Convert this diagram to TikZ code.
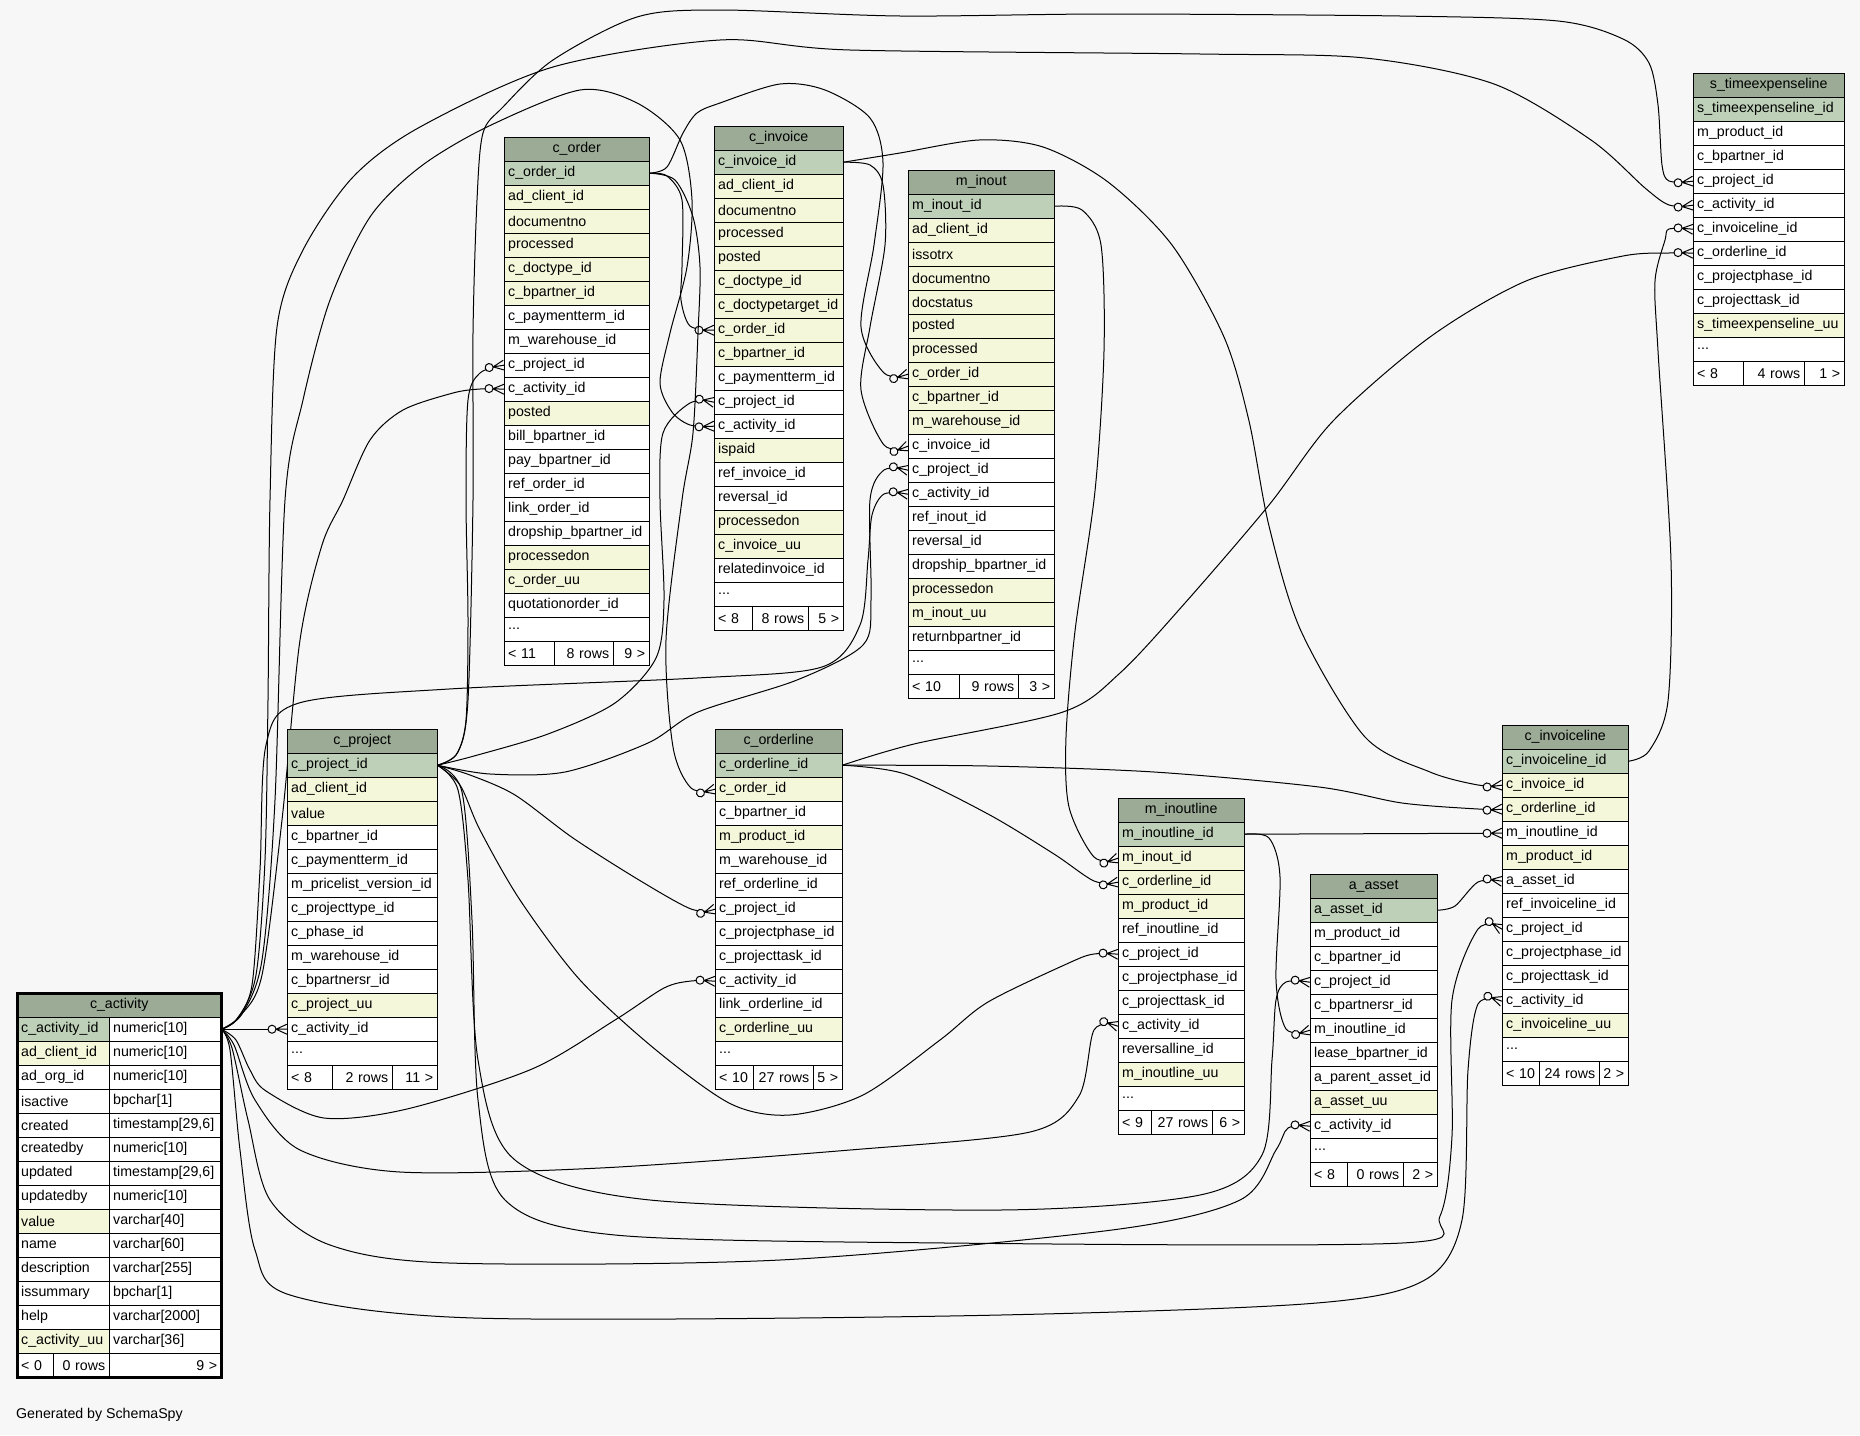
\documentclass[tikz,border=0pt]{standalone}
\usepackage{fontspec}
\setmainfont{Liberation Sans}
\usetikzlibrary{backgrounds}

\definecolor{bgcol}{HTML}{F7F7F7}
\definecolor{headcol}{HTML}{9BAB96}
\definecolor{pk}{HTML}{BED1B8}
\definecolor{ix}{HTML}{F4F7DA}
\colorlet{wh}{white}

% zero-or-many end: circle + crow's foot
\pgfdeclarearrow{
  name = crowodot,
  setup code = {
    \pgfarrowssettipend{0pt}
    \pgfarrowssetlineend{-18pt}
    \pgfarrowssetbackend{-19pt}
    \pgfarrowsupperhullpoint{0pt}{5pt}
    \pgfarrowsupperhullpoint{-19pt}{4pt}
  },
  drawing code = {
    \pgfpathmoveto{\pgfpoint{-11pt}{0pt}}
    \pgfpathlineto{\pgfpoint{0pt}{5pt}}
    \pgfpathmoveto{\pgfpoint{-11pt}{0pt}}
    \pgfpathlineto{\pgfpoint{0pt}{0pt}}
    \pgfpathmoveto{\pgfpoint{-11pt}{0pt}}
    \pgfpathlineto{\pgfpoint{0pt}{-5pt}}
    \pgfusepathqstroke
    \pgfsetfillcolor{bgcol}
    \pgfpathcircle{\pgfpoint{-15pt}{0pt}}{4pt}
    \pgfusepathqfillstroke
  }
}

\tikzset{
  tabhead/.style={draw, fill=headcol, minimum height=24pt, inner sep=0pt, anchor=north west},
  tabrow/.style={draw, fill=#1, minimum height=24pt, inner xsep=4pt, inner ysep=0pt,
    anchor=north west, align=left},
  fklink/.style={line width=1pt, -crowodot}
}

\newcommand\rowdots{...}
% table: name, left, top, width, title, rows (text/colour)
\newcommand\dbtable[6]{%
  \node[tabhead, minimum width=#4] (#1-0) at (#2,#3) {#5};
  \pgfmathsetmacro\tabtw{#4-8}%
  \foreach \txt/\kind [count=\i] in {#6} {
    \pgfmathsetmacro\rowy{#3+24*\i}
    \node[tabrow=\kind, text width=\tabtw pt] (#1-\i) at (#2,\rowy) {\txt};
    \xdef\rowlast{\i}
  }
  \def\tabx{#2}\def\tabtop{#3}\def\tabw{#4}%
}
% footer: name, two separators, three texts
\newcommand\dbfoot[6]{%
  \pgfmathsetmacro\footy{\tabtop+24*(\rowlast+1)}%
  \pgfmathsetmacro\wa{#2-\tabx-8}%
  \pgfmathsetmacro\wb{#3-#2-8}%
  \pgfmathsetmacro\wc{\tabx+\tabw-#3-8}%
  \node[tabrow=wh, text width=\wa pt] (#1-fa) at (\tabx,\footy) {#4};
  \node[tabrow=wh, text width=\wb pt, align=right] (#1-fb) at (#2,\footy) {#5};
  \node[tabrow=wh, text width=\wc pt, align=right] (#1-fc) at (#3,\footy) {#6};
}

\begin{document}
\begin{tikzpicture}[x=1pt, y=-1pt, font=\fontsize{14.2}{17}\selectfont]
\useasboundingbox (0,0) rectangle (1860,1435);

% Tables
\node[tabhead, minimum width=204] (act-0) at (17,993) {c\_activity};
\foreach \txt/\kind/\type [count=\i] in {
  c\_activity\_id/pk/numeric[10], ad\_client\_id/ix/numeric[10], ad\_org\_id/wh/numeric[10],
  isactive/wh/bpchar[1], created/wh/{timestamp[29,6]}, createdby/wh/numeric[10],
  updated/wh/{timestamp[29,6]}, updatedby/wh/numeric[10], value/ix/varchar[40],
  name/wh/varchar[60], description/wh/varchar[255], issummary/wh/bpchar[1],
  help/wh/varchar[2000], c\_activity\_uu/ix/varchar[36]} {
  \pgfmathsetmacro\rowy{993+24*\i}
  \node[tabrow=\kind, text width=84pt] (act-\i) at (17,\rowy) {\txt};
  \node[tabrow=wh, text width=104pt] (act-t\i) at (109,\rowy) {\type};
}
\def\tabx{17}\def\tabtop{993}\def\tabw{204}\xdef\rowlast{14}
\dbfoot{act}{53}{109}{< 0}{0 rows}{9 >}
\draw[line width=3pt] (act-0.north west) rectangle (act-fc.south east);

\dbtable{ord}{504}{137}{145}{c\_order}{c\_order\_id/pk, ad\_client\_id/ix, documentno/ix,
  processed/ix, c\_doctype\_id/ix, c\_bpartner\_id/ix, c\_paymentterm\_id/wh, m\_warehouse\_id/wh,
  c\_project\_id/wh, c\_activity\_id/wh, posted/ix, bill\_bpartner\_id/wh, pay\_bpartner\_id/wh,
  ref\_order\_id/wh, link\_order\_id/wh, dropship\_bpartner\_id/wh, processedon/ix, c\_order\_uu/ix,
  quotationorder\_id/wh, \rowdots/wh}
\dbfoot{ord}{554}{613}{< 11}{8 rows}{9 >}

\dbtable{inv}{714}{126}{129}{c\_invoice}{c\_invoice\_id/pk, ad\_client\_id/ix, documentno/ix,
  processed/ix, posted/ix, c\_doctype\_id/ix, c\_doctypetarget\_id/ix, c\_order\_id/ix,
  c\_bpartner\_id/ix, c\_paymentterm\_id/wh, c\_project\_id/wh, c\_activity\_id/wh, ispaid/ix,
  ref\_invoice\_id/wh, reversal\_id/wh, processedon/ix, c\_invoice\_uu/ix, relatedinvoice\_id/wh, \rowdots/wh}
\dbfoot{inv}{752}{808}{< 8}{8 rows}{5 >}

\dbtable{ino}{908}{170}{146}{m\_inout}{m\_inout\_id/pk, ad\_client\_id/ix, issotrx/ix, documentno/ix,
  docstatus/ix, posted/ix, processed/ix, c\_order\_id/ix, c\_bpartner\_id/ix, m\_warehouse\_id/ix,
  c\_invoice\_id/wh, c\_project\_id/wh, c\_activity\_id/wh, ref\_inout\_id/wh, reversal\_id/wh,
  dropship\_bpartner\_id/wh, processedon/ix, m\_inout\_uu/ix, returnbpartner\_id/wh, \rowdots/wh}
\dbfoot{ino}{959}{1018}{< 10}{9 rows}{3 >}

\dbtable{tel}{1693}{73}{151}{s\_timeexpenseline}{s\_timeexpenseline\_id/pk, m\_product\_id/wh,
  c\_bpartner\_id/wh, c\_project\_id/wh, c\_activity\_id/wh, c\_invoiceline\_id/wh, c\_orderline\_id/wh,
  c\_projectphase\_id/wh, c\_projecttask\_id/wh, s\_timeexpenseline\_uu/ix, \rowdots/wh}
\dbfoot{tel}{1743}{1804}{< 8}{4 rows}{1 >}

\dbtable{prj}{287}{729}{150}{c\_project}{c\_project\_id/pk, ad\_client\_id/ix, value/ix,
  c\_bpartner\_id/wh, c\_paymentterm\_id/wh, m\_pricelist\_version\_id/wh, c\_projecttype\_id/wh,
  c\_phase\_id/wh, m\_warehouse\_id/wh, c\_bpartnersr\_id/wh, c\_project\_uu/ix, c\_activity\_id/wh, \rowdots/wh}
\dbfoot{prj}{332}{392}{< 8}{2 rows}{11 >}

\dbtable{orl}{715}{729}{127}{c\_orderline}{c\_orderline\_id/pk, c\_order\_id/ix, c\_bpartner\_id/wh,
  m\_product\_id/ix, m\_warehouse\_id/wh, ref\_orderline\_id/wh, c\_project\_id/wh, c\_projectphase\_id/wh,
  c\_projecttask\_id/wh, c\_activity\_id/wh, link\_orderline\_id/wh, c\_orderline\_uu/ix, \rowdots/wh}
\dbfoot{orl}{753}{813}{< 10}{27 rows}{5 >}

\dbtable{iol}{1118}{798}{126}{m\_inoutline}{m\_inoutline\_id/pk, m\_inout\_id/ix, c\_orderline\_id/ix,
  m\_product\_id/ix, ref\_inoutline\_id/wh, c\_project\_id/wh, c\_projectphase\_id/wh,
  c\_projecttask\_id/wh, c\_activity\_id/wh, reversalline\_id/wh, m\_inoutline\_uu/ix, \rowdots/wh}
\dbfoot{iol}{1151}{1212}{< 9}{27 rows}{6 >}

\dbtable{ast}{1310}{874}{127}{a\_asset}{a\_asset\_id/pk, m\_product\_id/wh, c\_bpartner\_id/wh,
  c\_project\_id/wh, c\_bpartnersr\_id/wh, m\_inoutline\_id/wh, lease\_bpartner\_id/wh,
  a\_parent\_asset\_id/wh, a\_asset\_uu/ix, c\_activity\_id/wh, \rowdots/wh}
\dbfoot{ast}{1347}{1403}{< 8}{0 rows}{2 >}

\dbtable{ivl}{1502}{725}{126}{c\_invoiceline}{c\_invoiceline\_id/pk, c\_invoice\_id/ix, c\_orderline\_id/ix,
  m\_inoutline\_id/wh, m\_product\_id/ix, a\_asset\_id/wh, ref\_invoiceline\_id/wh, c\_project\_id/wh,
  c\_projectphase\_id/wh, c\_projecttask\_id/wh, c\_activity\_id/wh, c\_invoiceline\_uu/ix, \rowdots/wh}
\dbfoot{ivl}{1539}{1599}{< 10}{24 rows}{2 >}

\node[anchor=west, inner sep=0pt] (credit) at (16,1415) {Generated by SchemaSpy};

% Connections
\begin{scope}[on background layer]
\fill[bgcol] (0,0) rectangle (1860,1435);
% from c_activity
\draw[fklink] (act-t1.east) -- (prj-12.west);
\draw[fklink] plot[smooth] coordinates {(act-t1.east) (238,1018) (256,975) (265,860) (268,700) (270,500) (277,327) (303,250) (353,177) (420,127) (553,67) (720,40) (850,50) (1200,54) (1365,58) (1494,84) (1591,140) (1645,188) (1669,205) (tel-5.west)};
\draw[fklink] plot[smooth] coordinates {(act-t1.east) (240,1016) (262,975) (282,820) (300,640) (322,545) (343,500) (370,440) (403,410) (453,393) (480,389) (ord-10.west)};
\draw[fklink] plot[smooth] coordinates {(act-t1.east) (242,1014) (262,960) (275,800) (285,500) (303,400) (330,300) (370,217) (420,167) (487,127) (580,90) (637,103) (680,140) (692,200) (687,267) (670,333) (660,383) (672,412) (690,425) (inv-12.west)};
\draw[fklink] plot[smooth] coordinates {(act-t1.east) (236,1020) (252,985) (260,870) (266,745) (299,703) (449,689) (697,678) (822,667) (860,625) (868,560) (872,515) (884,494) (ino-13.west)};
\draw[fklink] plot[smooth] coordinates {(act-t1.east) (236,1040) (250,1070) (266,1091) (324,1118) (407,1109) (532,1069) (615,1020) (664,988) (691,981) (orl-10.west)};
\draw[fklink] plot[smooth] coordinates {(act-t1.east) (234,1045) (255,1100) (300,1150) (400,1172) (600,1168) (850,1150) (1030,1132) (1079,1096) (1094,1030) (iol-9.west)};
\draw[fklink] plot[smooth] coordinates {(act-t1.east) (232,1048) (248,1120) (270,1200) (330,1245) (449,1263) (780,1260) (1112,1230) (1240,1200) (1276,1150) (1288,1128) (ast-10.west)};
\draw[fklink] plot[smooth] coordinates {(act-t1.east) (230,1050) (240,1150) (255,1250) (290,1295) (474,1318) (949,1316) (1304,1304) (1423,1281) (1462,1220) (1468,1070) (1478,1004) (ivl-11.west)};
% from c_project
\draw[fklink] plot[smooth] coordinates {(prj-1.east) (456,755) (466,720) (468,620) (466,500) (468,400) (480,373) (ord-9.west)};
\draw[fklink] plot[smooth] coordinates {(prj-1.east) (458,752) (468,700) (473,500) (473,333) (477,200) (483,133) (503,107) (553,60) (637,17) (720,10) (900,16) (1108,14) (1400,16) (1558,21) (1623,39) (1649,63) (1658,105) (1662,165) (1669,181) (tel-4.west)};
\draw[fklink] plot[smooth] coordinates {(prj-1.east) (474,756) (548,734) (615,703) (656,658) (664,600) (660,500) (663,433) (690,403) (inv-11.west)};
\draw[fklink] plot[smooth] coordinates {(prj-1.east) (490,774) (565,772) (648,743) (698,712) (797,680) (863,645) (871,600) (870,500) (884,470) (ino-12.west)};
\draw[fklink] plot[smooth] coordinates {(prj-1.east) (470,775) (515,795) (573,838) (639,880) (691,909) (orl-7.west)};
\draw[fklink] plot[smooth] coordinates {(prj-1.east) (460,785) (480,830) (520,900) (580,980) (656,1050) (731,1104) (790,1115) (863,1095) (940,1040) (988,1002) (1071,962) (1094,954) (iol-6.west)};
\draw[fklink] plot[smooth] coordinates {(prj-1.east) (458,790) (468,880) (478,1060) (515,1160) (650,1200) (1000,1210) (1200,1195) (1262,1155) (1272,1060) (1276,1000) (1286,982) (ast-4.west)};
\draw[fklink] plot[smooth] coordinates {(prj-1.east) (462,792) (472,920) (478,1100) (505,1200) (615,1235) (946,1243) (1402,1243) (1440,1216) (1452,1136) (1452,1000) (1478,929) (ivl-8.west)};
% from c_order
\draw[fklink] plot[smooth] coordinates {(ord-1.east) (667,176) (682,200) (682,267) (681,300) (690,326) (inv-8.west)};
\draw[fklink] plot[smooth] coordinates {(ord-1.east) (667,167) (683,133) (697,113) (720,103) (780,84) (825,90) (870,118) (883,163) (874,245) (861,327) (884,373) (ino-8.west)};
\draw[fklink] plot[smooth] coordinates {(ord-1.east) (675,180) (693,217) (700,267) (698,333) (693,433) (682,500) (666,640) (673,747) (691,788) (orl-2.west)};
% from c_invoice
\draw[fklink] plot[smooth] coordinates {(inv-1.east) (870,165) (883,185) (885,245) (870,327) (861,390) (884,445) (ino-11.west)};
\draw[fklink] plot[smooth] coordinates {(inv-1.east) (900,153) (979,140) (1043,147) (1108,182) (1172,245) (1224,337) (1249,421) (1269,526) (1301,631) (1365,737) (1430,772) (1478,785) (ivl-2.west)};
% from m_inout
\draw[fklink] plot[smooth] coordinates {(ino-1.east) (1082,210) (1101,245) (1104,351) (1095,491) (1075,631) (1066,737) (1069,807) (1094,857) (iol-2.west)};
% from c_orderline
\draw[fklink] plot[smooth] coordinates {(orl-1.east) (905,774) (988,814) (1054,854) (1094,881) (iol-3.west)};
\draw[fklink] plot[smooth] coordinates {(orl-1.east) (988,766) (1154,772) (1319,787) (1402,803) (1478,809) (ivl-3.west)};
\draw[fklink] plot[smooth] coordinates {(orl-1.east) (914,744) (1063,712) (1120,673) (1185,603) (1269,505) (1333,421) (1430,337) (1526,281) (1623,256) (1669,253) (tel-7.west)};
% from m_inoutline
\draw[fklink] (iol-1.east) -- (ivl-4.west);
\draw[fklink] plot[smooth] coordinates {(iol-1.east) (1269,838) (1280,877) (1276,980) (1286,1029) (ast-6.west)};
% from a_asset and c_invoiceline
\draw[fklink] plot[smooth] coordinates {(ast-1.east) (1455,906) (1478,882) (ivl-6.west)};
\draw[fklink] plot[smooth] coordinates {(ivl-1.east) (1649,751) (1668,701) (1671,561) (1658,351) (1655,281) (1665,240) (1669,229) (tel-6.west)};
\end{scope}
\end{tikzpicture}
\end{document}
